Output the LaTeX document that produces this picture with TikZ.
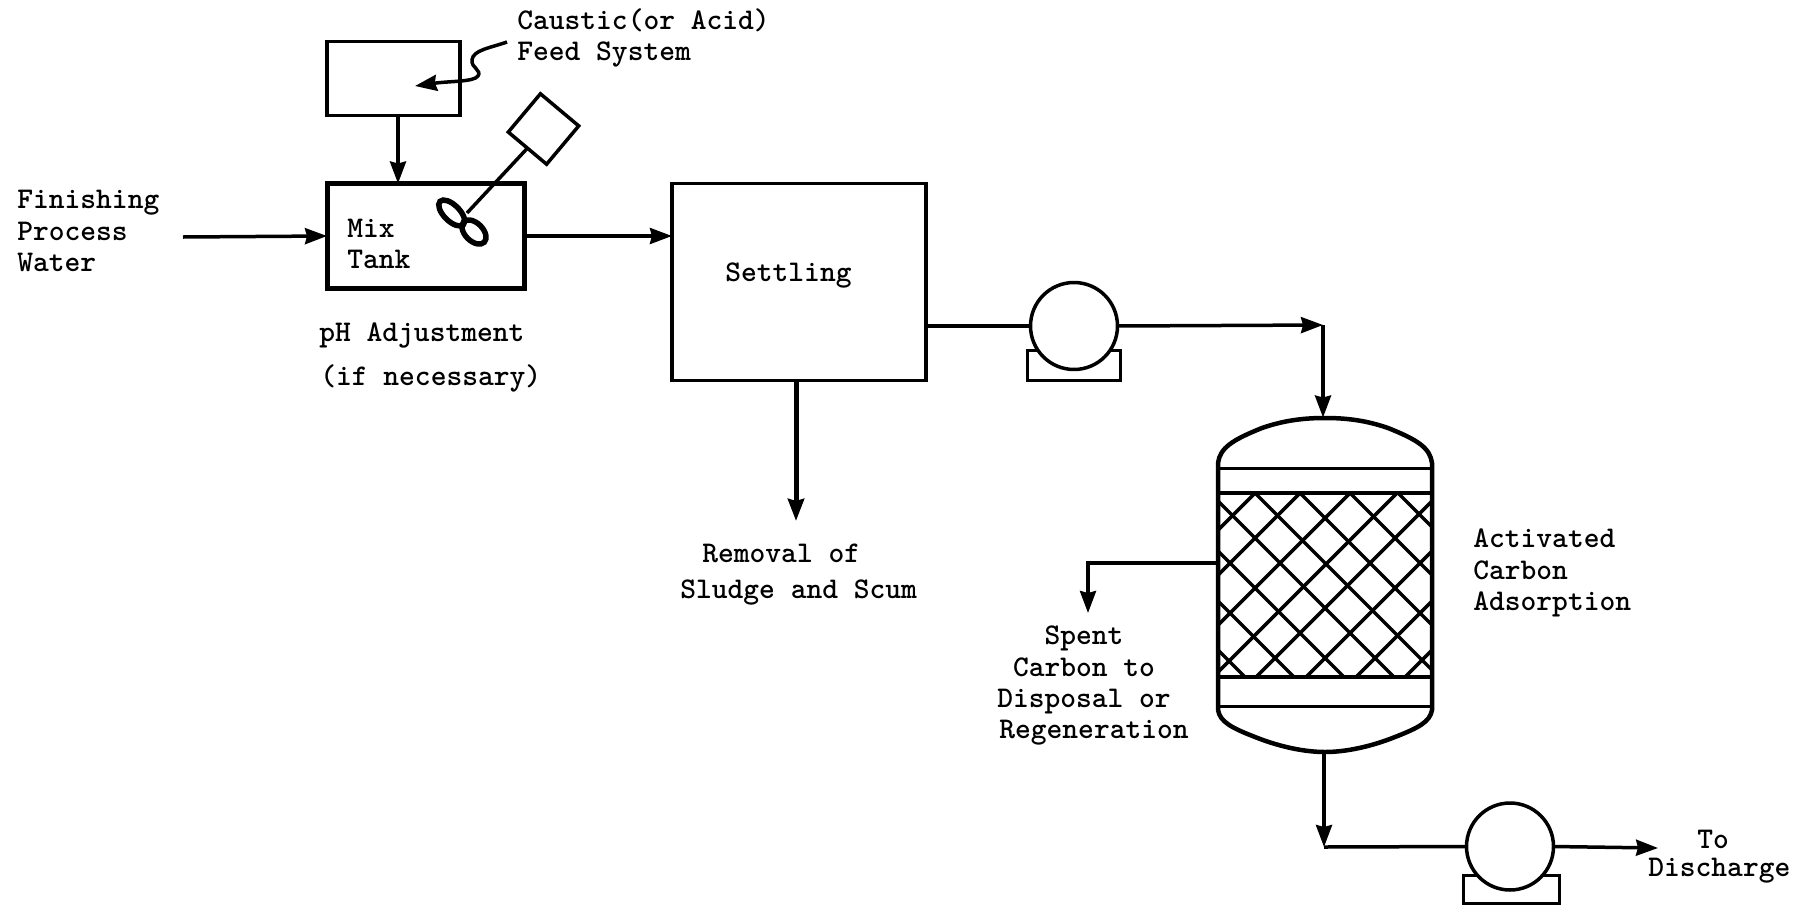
\documentclass[tikz,border=0pt]{standalone}
\usepackage{xcolor}
\usetikzlibrary{shapes.geometric, arrows.meta, positioning, calc}

\begin{document}
\begin{tikzpicture}[
    x=0.02cm, y=-0.02cm,
    unitbox/.style={rectangle, draw, line width=0.07cm, outer sep=0pt, inner sep=0pt},
    pumpcircle/.style={circle, draw, fill=white, line width=0.07cm, minimum size=1.74cm, outer sep=0pt, inner sep=0pt},
    pumpbase/.style={rectangle, draw, line width=0.06cm, outer sep=0pt, inner sep=0pt},
    bladeloop/.style={ellipse, draw, line width=0.11cm, inner sep=0pt, rotate=-45},
    labeltext/.style={font=\fontsize{17.1}{18}\selectfont\ttfamily\bfseries, inner sep=0pt, align=left, anchor=west},
    arrowstyle/.style={-{Stealth[length=0.44cm, width=0.32cm, inset=0.04cm]}, line width=0.07cm},
    pipestyle/.style={line width=0.07cm},
    hatchline/.style={line width=0.07cm}
]
\useasboundingbox (0,0) rectangle (1814,906);

\node[unitbox, line width=0.1cm, minimum width=3.96cm, minimum height=2.1cm] (mix) at (426,236) {};
\node[unitbox, above right=1.36cm and 0cm of mix.north west, minimum width=2.66cm, minimum height=1.48cm] (feed) {};
\node[unitbox, below right=0cm and 2.94cm of mix.north east, minimum width=5.08cm, minimum height=3.94cm] (settle) {};

\node[labeltext] (feedlabel) at (517,38) {Caustic(or Acid)\\Feed System};
\node[labeltext] (inlabel) at (17,231) {Finishing\\Process\\Water};
\node[labeltext] (mixlabel) at (347,244) {Mix\\Tank};
\node[labeltext] (phlabel) at (319,335) {pH Adjustment};
\node[labeltext] (iflabel) at (320,378) {(if necessary)};
\node[labeltext] (settlelabel) at (725,276) {Settling};
\node[labeltext] (removallabel) at (702,553) {Removal of};
\node[labeltext] (sludgelabel) at (680,592) {Sludge and Scum};
\node[labeltext] (carbonlabel) at (1473,573) {Activated\\Carbon\\Adsorption};
\node[labeltext, align=center, anchor=center] (spentlabel) at (1084,670) {Spent\\Carbon to\\Disposal or};
\node[labeltext] (regenlabel) at (999,733) {Regeneration};
\node[labeltext] (tolabel) at (1697,839) {To};
\node[labeltext] (dischargelabel) at (1648,871) {Discharge};

% agitator
\node[rectangle, draw, line width=0.07cm, minimum size=1cm, inner sep=0pt, outer sep=0pt, rotate=50] (motor) at (543.5,129) {};
\node[bladeloop, minimum width=0.66cm, minimum height=0.32cm] (blade1) at (451.7,213) {};
\node[bladeloop, minimum width=0.58cm, minimum height=0.36cm] (blade2) at (474,232) {};
\coordinate (waist) at (467,213);
\draw[pipestyle] (motor.west) -- (waist);

% pumps
\node[pumpbase, minimum width=1.86cm, minimum height=0.6cm] (base1) at (1073.5,365) {};
\node[pumpcircle] (pump1) at (1074,326) {};
\node[pumpbase, minimum width=1.92cm, minimum height=0.56cm] (base2) at (1511,889) {};
\node[pumpcircle] (pump2) at (1510,846.5) {};

% carbon column
\node[minimum width=4.28cm, minimum height=6.7cm, inner sep=0pt, outer sep=0pt] (vessel) at (1325,585) {};
\begin{scope}
\clip (1218,493) rectangle (1432,677);
\foreach \d in {568,617,667,717,762,807,857,905}
    \draw[hatchline] ({\d+493},493) -- ({\d+677},677);
\foreach \s in {1748,1793,1843,1890,1933,1983,2033,2082}
    \draw[hatchline] ({\s-493},493) -- ({\s-677},677);
\end{scope}
\draw[line width=0.09cm] (1218,710) -- (1218,463)
    .. controls (1220,448) and (1232,440) .. (1262,428)
    .. controls (1285,420) and (1305,418) .. (1325,418)
    .. controls (1345,418) and (1365,420) .. (1388,428)
    .. controls (1418,440) and (1430,448) .. (1432,463)
    -- (1432,710)
    .. controls (1430,722) and (1418,728) .. (1395,737)
    .. controls (1370,747) and (1345,752) .. (1325,752)
    .. controls (1305,752) and (1280,747) .. (1255,737)
    .. controls (1232,728) and (1220,722) .. (1218,710);
\draw[line width=0.06cm] (1218,468) -- (1432,468);
\draw[line width=0.09cm] (1218,493) -- (1432,493);
\draw[line width=0.09cm] (1218,677) -- (1432,677);
\draw[line width=0.06cm] (1218,706) -- (1432,706);

\coordinate (instart) at (183,237);
\coordinate (feedstart) at (507,42);
\coordinate (feedtip) at (415,86);
\coordinate (sludgetip) at (796,521);
\coordinate (junction) at (1323,325);
\coordinate (spentout) at (1218,563);
\coordinate (spenttip) at (1088,613);
\coordinate (corner) at (1324,847);
\coordinate (outtip) at (1658,848);

\draw[arrowstyle] (instart) -- (mix.west);
\draw[arrowstyle] ([xshift=0.09cm]feed.south) -- ([xshift=0.09cm]feed.south |- mix.north);
\draw[arrowstyle] (feedstart) .. controls (490,48) and (473,50) .. (472,60) .. controls (471,68) and (482,70) .. (478,76) .. controls (474,82) and (450,81) .. (feedtip);
\draw[arrowstyle] (mix.east) -- (mix.east -| settle.west);
\draw[pipestyle] (pump1.west -| settle.east) -- (pump1.west);
\draw[arrowstyle, line width=0.1cm] (settle.south -| sludgetip) -- (sludgetip);
\draw[arrowstyle] (pump1.east) -- (junction);
\draw[arrowstyle] (junction) -- (junction |- vessel.north);
\draw[arrowstyle] (spentout) -| (spenttip);
\draw[arrowstyle] (vessel.south -| corner) -- (corner);
\draw[pipestyle] (corner) -- (pump2.west);
\draw[arrowstyle] (pump2.east) -- (outtip);
\end{tikzpicture}
\end{document}
